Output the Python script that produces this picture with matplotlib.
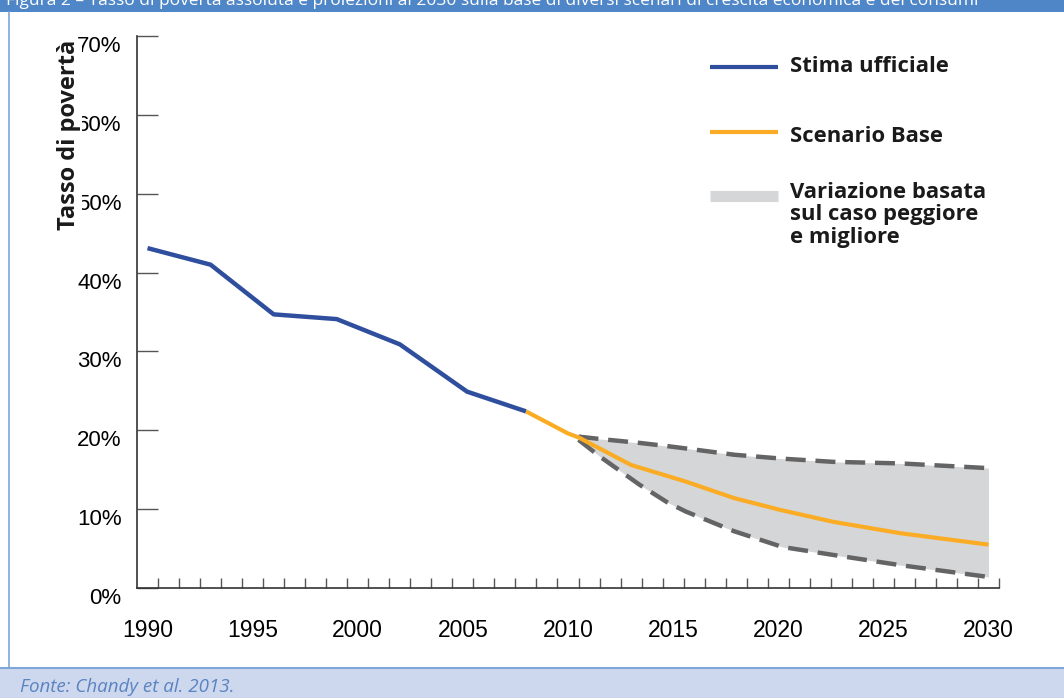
import matplotlib
matplotlib.use("Agg")
import matplotlib.pyplot as plt
from matplotlib.lines import Line2D
from matplotlib.patches import Rectangle
import matplotlib.transforms as mtransforms

# ---------------- data ----------------
official_years = [1990, 1993, 1996, 1999, 2002, 2005.2, 2008]
official_vals = [43.1, 41.0, 34.7, 34.1, 30.9, 24.9, 22.4]

base_years = [2008, 2009, 2010, 2010.5, 2013, 2015.6, 2017.9, 2020.1, 2022.6, 2025.8, 2030]
base_vals = [22.4, 21.0, 19.6, 19.1, 15.6, 13.5, 11.4, 9.9, 8.4, 6.95, 5.5]

range_years = [2010.5, 2011.5, 2013.4, 2014.7, 2015.6, 2017.9, 2020.2, 2022.6, 2025.8, 2030]
worst_vals = [19.2, 18.9, 18.4, 18.0, 17.7, 16.9, 16.4, 16.0, 15.8, 15.2]
best_vals = [18.8, 16.7, 13.1, 10.9, 9.7, 7.2, 5.2, 4.2, 2.9, 1.4]

y_ticks = [0, 10, 20, 30, 40, 50, 60, 70]
y_labels = ["0%", "10%", "20%", "30%", "40%", "50%", "60%", "70%"]
x_label_years = [1990, 1995, 2000, 2005, 2010, 2015, 2020, 2025, 2030]
x_minor_ticks = [1990.5 + i for i in range(41)]

legend_labels = ["Stima ufficiale", "Scenario Base",
                 "Variazione basata\nsul caso peggiore\ne migliore"]
y_axis_label = "Tasso di povertà"
header_text = ("Figura 2 – Tasso di povertà assoluta e proiezioni al 2030 sulla base "
               "di diversi scenari di crescita economica e dei consumi")
source_text = "Fonte: Chandy et al. 2013."

# ---------------- style ----------------
BLUE = "#2f4f9e"
ORANGE = "#fbac25"
FILL = "#d5d6d8"
DASH = "#646464"
FRAME = "#7ea6d9"

W, H = 1064, 698
fig = plt.figure(figsize=(W / 100, H / 100), dpi=100)
fig.patch.set_facecolor("white")

def fx(px):
    return px / W

def fy(py):
    return 1 - py / H

# header bar
fig.add_artist(Rectangle((0, fy(12)), 1, 12 / H, transform=fig.transFigure,
                         facecolor="#4f86c7", edgecolor="none", zorder=0))
fig.text(fx(6), fy(1), header_text, color="white", fontsize=12.5,
         family="Open Sans", va="center", ha="left")
# left frame line
fig.add_artist(Line2D([fx(8.5), fx(8.5)], [fy(12), fy(668)], transform=fig.transFigure,
                      color=FRAME, lw=1.2))
# footer
fig.add_artist(Rectangle((0, 0), 1, fy(668), transform=fig.transFigure,
                         facecolor="#cdd7ee", edgecolor="none", zorder=0))
fig.add_artist(Line2D([0, 1], [fy(668), fy(668)], transform=fig.transFigure,
                      color=FRAME, lw=1.5))
fig.text(fx(20), fy(687), source_text, color="#5a84c0", fontsize=13.5,
         style="italic", family="Open Sans", va="center", ha="left")

# axes
ax = fig.add_axes([fx(137), fy(588), fx(999) - fx(137), fy(36) - fy(588)])
ax.set_xlim(1989.5, 2030.5)
ax.set_ylim(0, 70)

ax.fill_between(range_years, best_vals, worst_vals, color=FILL, lw=0, zorder=1)
ax.plot(range_years, worst_vals, color=DASH, lw=3.2, dashes=(4.5, 2.2), zorder=2)
ax.plot(range_years, best_vals, color=DASH, lw=3.2, dashes=(4.5, 2.2), zorder=2)
ax.plot(base_years, base_vals, color=ORANGE, lw=3.0, zorder=3, solid_capstyle="butt")
ax.plot(official_years, official_vals, color=BLUE, lw=3.2, zorder=4, solid_capstyle="butt")

for s in ["top", "right"]:
    ax.spines[s].set_visible(False)
ax.spines["left"].set_color("#333333")
ax.spines["bottom"].set_color("#333333")
ax.spines["left"].set_linewidth(1.2)
ax.spines["bottom"].set_linewidth(1.2)

ax.set_yticks(y_ticks)
ax.set_yticklabels(y_labels, fontsize=16, family="Liberation Sans")
ax.tick_params(axis="y", direction="in", length=15, width=1.0, color="#555555", pad=11)
offset = mtransforms.ScaledTranslation(0, -8 / 100, fig.dpi_scale_trans)
for lab in ax.get_yticklabels():
    lab.set_transform(lab.get_transform() + offset)

ax.set_xticks(x_label_years)
ax.set_xticklabels([str(y) for y in x_label_years], fontsize=16.5, family="Liberation Sans")
ax.tick_params(axis="x", which="major", length=0, pad=22)
ax.set_xticks(x_minor_ticks, minor=True)
ax.tick_params(axis="x", which="minor", direction="in", length=7.5, width=1.0, color="#555555")

fig.text(fx(69), fy(135), y_axis_label, rotation=90, fontsize=17, fontweight="bold",
         family="Open Sans", va="center", ha="center", color="#1a1a1a", zorder=10,
         bbox=dict(facecolor="white", edgecolor="none", pad=0.5))

# legend (manual)
leg_x0, leg_x1, txt_x = fx(710), fx(778), fx(790)
fig.add_artist(Line2D([leg_x0, leg_x1], [fy(67), fy(67)], transform=fig.transFigure,
                      color=BLUE, lw=3.0, solid_capstyle="butt"))
fig.add_artist(Line2D([leg_x0, leg_x1], [fy(132), fy(132)], transform=fig.transFigure,
                      color=ORANGE, lw=3.0, solid_capstyle="butt"))
fig.add_artist(Line2D([leg_x0, leg_x1], [fy(196), fy(196)], transform=fig.transFigure,
                      color=FILL, lw=8.0, solid_capstyle="butt"))
fig.text(txt_x, fy(66), legend_labels[0], fontsize=15.8, fontweight="bold",
         family="Open Sans", va="center", ha="left", color="#1a1a1a")
fig.text(txt_x, fy(137), legend_labels[1], fontsize=15.8, fontweight="bold",
         family="Open Sans", va="center", ha="left", color="#1a1a1a")
fig.text(txt_x, fy(182), legend_labels[2], fontsize=15.8, fontweight="bold",
         family="Open Sans", va="top", ha="left", color="#1a1a1a", linespacing=1.08)

fig.savefig("out.png", dpi=100)
